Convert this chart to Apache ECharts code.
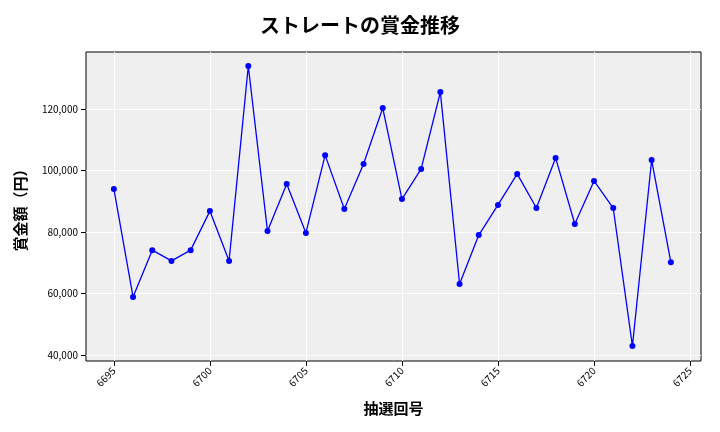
<!DOCTYPE html>
<html><head><meta charset="utf-8">
<script src="https://cdn.jsdelivr.net/npm/echarts@6/dist/echarts.min.js"></script>
<style>html,body{margin:0;padding:0;background:#fff}#c{width:720px;height:432px}</style>
</head><body><div id="c"></div>
<script>
const draws = [6695,6696,6697,6698,6699,6700,6701,6702,6703,6704,6705,6706,6707,6708,6709,6710,6711,6712,6713,6714,6715,6716,6717,6718,6719,6720,6721,6722,6723,6724];
const prizes = [94000,58900,74100,70600,74100,86800,70600,134000,80300,95600,79700,105000,87500,102100,120300,90700,100500,125500,63100,79000,88800,98900,87800,104100,82600,96600,87800,42900,103400,70200];
const xTicks = [6695,6700,6705,6710,6715,6720,6725];
const yTicks = [40000,60000,80000,100000,120000];
const font = '"Noto Sans CJK JP","Noto Sans",sans-serif';
const chart = echarts.init(document.getElementById('c'));
chart.setOption({
  animation:false,
  title:{text:'ストレートの賞金推移',left:'center',top:10,textStyle:{fontFamily:font,fontSize:20,fontWeight:'bold',color:'#000'}},
  grid:{left:86,right:19,top:52,bottom:71,show:true,backgroundColor:'#efefef',borderWidth:1,borderColor:'#000'},
  xAxis:{type:'value',min:6693.55,max:6725.57,name:'抽選回号',nameLocation:'middle',nameGap:40,
    nameTextStyle:{fontFamily:font,fontSize:15,fontWeight:'bold',color:'#000'},
    axisLine:{show:false},
    axisTick:{show:true,customValues:xTicks,lineStyle:{color:'#000'}},
    axisLabel:{customValues:xTicks,rotate:45,fontSize:10,color:'#000',fontFamily:font,formatter:v=>String(v)},
    splitLine:{show:true,lineStyle:{color:'#fff',width:1}}},
  yAxis:{type:'value',min:38049,max:138537,name:'賞金額（円）',nameLocation:'middle',nameGap:58,
    nameTextStyle:{fontFamily:font,fontSize:15,fontWeight:'bold',color:'#000'},
    axisLine:{show:false},
    axisTick:{show:true,customValues:yTicks,lineStyle:{color:'#000'}},
    axisLabel:{customValues:yTicks,fontSize:10,color:'#000',fontFamily:font,formatter:v=>v.toLocaleString('en-US')},
    splitLine:{show:true,lineStyle:{color:'#fff',width:1}}},
  series:[{type:'line',data:draws.map((d,i)=>[d,prizes[i]]),symbol:'circle',symbolSize:6,
    lineStyle:{color:'#0000ff',width:1.3},itemStyle:{color:'#0000ff'}}]
});
</script></body></html>
